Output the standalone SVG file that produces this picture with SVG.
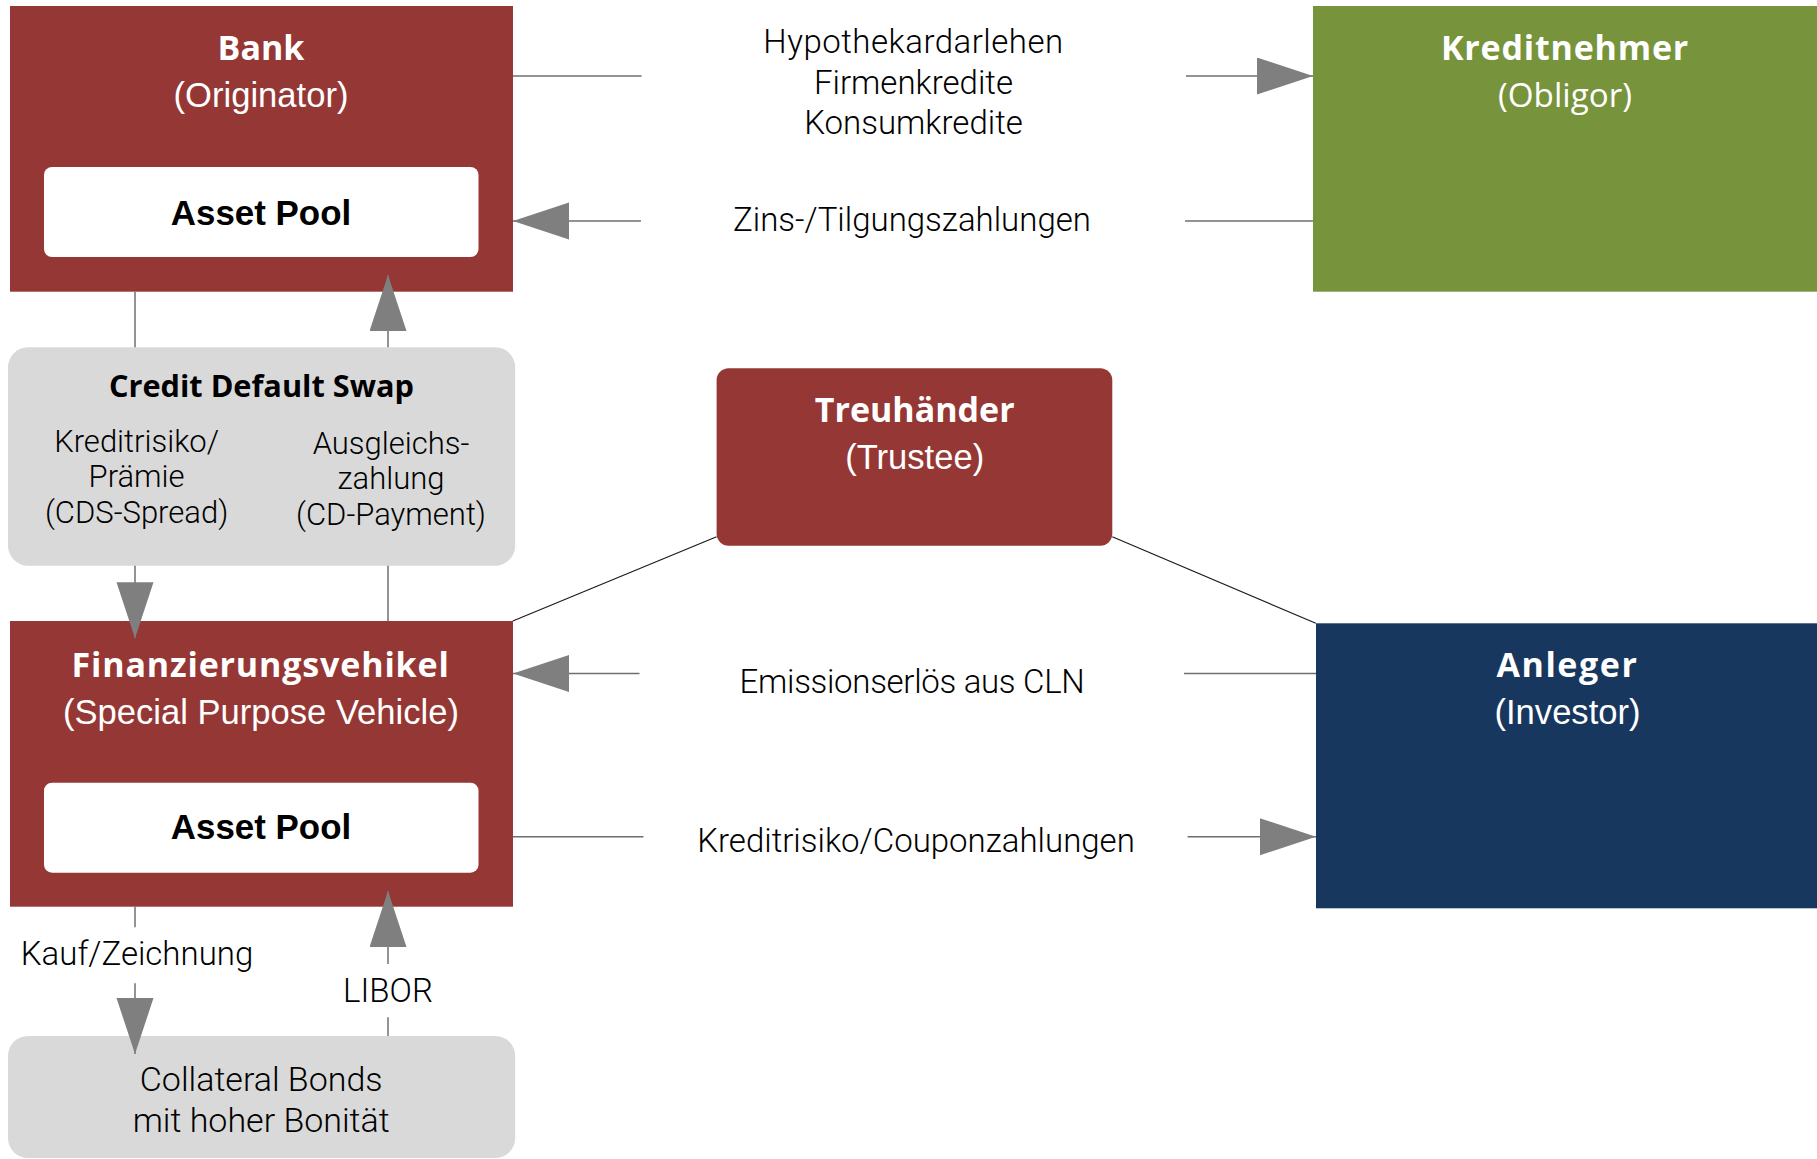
<svg xmlns="http://www.w3.org/2000/svg" width="1817" height="1159" viewBox="0 0 1817 1159">
<style>
.red{fill:#953735}
.green{fill:#77933C}
.navy{fill:#17375E}
.grey{fill:#D9D9D9}
.pool{fill:#FFFFFF}
.title{font-family:"Open Sans","Noto Sans",sans-serif;font-weight:700;font-size:34px;fill:#FFFFFF;text-anchor:middle}
.sub{font-family:"Liberation Sans",Arial,sans-serif;font-size:34.6px;fill:#FFFFFF;text-anchor:middle}
.subo{font-family:"Open Sans","Noto Sans",sans-serif;font-size:33.2px;fill:#FFFFFF;text-anchor:middle}
.poolt{font-family:"Liberation Sans",Arial,sans-serif;font-weight:700;font-size:34.9px;fill:#000000;text-anchor:middle}
.lbl{font-family:Roboto,"Open Sans",sans-serif;font-weight:300;font-size:33px;fill:#000000;text-anchor:middle}
.lbl2{font-family:Roboto,"Open Sans",sans-serif;font-weight:300;font-size:34px;fill:#000000;text-anchor:middle}
.cds{font-family:Roboto,"Open Sans",sans-serif;font-weight:300;font-size:31px;fill:#000000;text-anchor:middle}
.cdst{font-family:"Open Sans","Noto Sans",sans-serif;font-weight:700;font-size:30.7px;fill:#000000;text-anchor:middle}
.ln{stroke:#6F6F6F;stroke-width:1.5;fill:none}
.diag{stroke:#1A1A1A;stroke-width:1.2;fill:none}
.arr{marker-end:url(#ah)}
</style>
<defs>
<marker id="ah" markerUnits="userSpaceOnUse" markerWidth="57" markerHeight="38" refX="56" refY="18.5" orient="auto">
<path d="M0,0 L56,18.5 L0,37 Z" fill="#7F7F7F"/>
</marker>
</defs>

<g id="bank">
<rect class="red" x="10" y="6" width="503" height="285.7"/>
<text class="title" x="261" y="60">Bank</text>
<text class="sub" x="261" y="107">(Originator)</text>
</g>
<g id="bank-asset-pool">
<rect class="pool" x="44" y="167" width="434.5" height="90" rx="8"/>
<text class="poolt" x="261" y="225">Asset Pool</text>
</g>

<g id="kreditnehmer">
<rect class="green" x="1313" y="6" width="504" height="285.7"/>
<text class="title" x="1565" y="60" letter-spacing="0.8">Kreditnehmer</text>
<text class="subo" x="1565" y="107">(Obligor)</text>
</g>

<g id="cds">
<rect class="grey" x="8" y="347.3" width="507.2" height="218.4" rx="20"/>
<text class="cdst" x="261.4" y="396.7">Credit Default Swap</text>
<text class="cds" x="136.6" y="452.3">Kreditrisiko/</text>
<text class="cds" x="136.6" y="487">Prämie</text>
<text class="cds" x="136.6" y="522.5">(CDS-Spread)</text>
<text class="cds" x="391" y="453.5">Ausgleichs-</text>
<text class="cds" x="391" y="488.5">zahlung</text>
<text class="cds" x="391" y="524.5">(CD-Payment)</text>
</g>

<g id="treuhaender">
<rect class="red" x="716.6" y="368.3" width="395.7" height="177.4" rx="12"/>
<text class="title" x="914.7" y="422.3">Treuhänder</text>
<text class="sub" x="914.7" y="469.3">(Trustee)</text>
</g>

<g id="spv">
<rect class="red" x="10" y="621" width="503" height="285.7"/>
<text class="title" x="260.6" y="676.7" letter-spacing="0.85">Finanzierungsvehikel</text>
<text class="sub" x="261" y="724">(Special Purpose Vehicle)</text>
</g>
<g id="spv-asset-pool">
<rect class="pool" x="44" y="782.7" width="434.5" height="90" rx="8"/>
<text class="poolt" x="261" y="839.3">Asset Pool</text>
</g>

<g id="anleger">
<rect class="navy" x="1316" y="623.3" width="501" height="285"/>
<text class="title" x="1567.5" y="677.3" letter-spacing="1.6">Anleger</text>
<text class="sub" x="1567.5" y="724">(Investor)</text>
</g>

<g id="collateral">
<rect class="grey" x="8" y="1036" width="507.2" height="122" rx="20"/>
<text class="lbl2" x="261.2" y="1090.7">Collateral Bonds</text>
<text class="lbl2" x="261.2" y="1132.3">mit hoher Bonität</text>
</g>

<g id="connectors">
<line class="ln" x1="513" y1="76" x2="641.5" y2="76"/>
<line class="ln arr" x1="1186" y1="76" x2="1313" y2="76"/>
<line class="ln arr" x1="641" y1="221" x2="513" y2="221"/>
<line class="ln" x1="1185" y1="221" x2="1313" y2="221"/>
<line class="ln" x1="135" y1="291.7" x2="135" y2="347.3"/>
<line class="ln arr" x1="388" y1="347.3" x2="388" y2="275"/>
<line class="ln arr" x1="135" y1="565.7" x2="135" y2="638.3"/>
<line class="ln" x1="388" y1="565.7" x2="388" y2="621"/>
<line class="diag" x1="716.6" y1="536.7" x2="512.8" y2="621"/>
<line class="diag" x1="1112.3" y1="536.7" x2="1315.8" y2="623.3"/>
<line class="ln arr" x1="639.5" y1="673.5" x2="513" y2="673.5"/>
<line class="ln" x1="1184" y1="673.5" x2="1316" y2="673.5"/>
<line class="ln" x1="513" y1="836.7" x2="643.5" y2="836.7"/>
<line class="ln arr" x1="1187.6" y1="836.7" x2="1316" y2="836.7"/>
<line class="ln" x1="135" y1="906.7" x2="135" y2="927.3"/>
<line class="ln arr" x1="135" y1="983.3" x2="135" y2="1054"/>
<line class="ln arr" x1="388" y1="964" x2="388" y2="891"/>
<line class="ln" x1="388" y1="1017.3" x2="388" y2="1036"/>
<text class="lbl" x="913.5" y="52.7" letter-spacing="0.5">Hypothekardarlehen</text>
<text class="lbl" x="913.5" y="93.5">Firmenkredite</text>
<text class="lbl" x="913.5" y="134.3">Konsumkredite</text>
<text class="lbl" x="912" y="230.7">Zins-/Tilgungszahlungen</text>
<text class="lbl" x="912" y="692.7" letter-spacing="-0.3">Emissionserlös aus CLN</text>
<text class="lbl" x="916" y="851.7">Kreditrisiko/Couponzahlungen</text>
<text class="lbl" x="137" y="965">Kauf/Zeichnung</text>
<text class="lbl" x="388" y="1001.7">LIBOR</text>
</g>
</svg>
